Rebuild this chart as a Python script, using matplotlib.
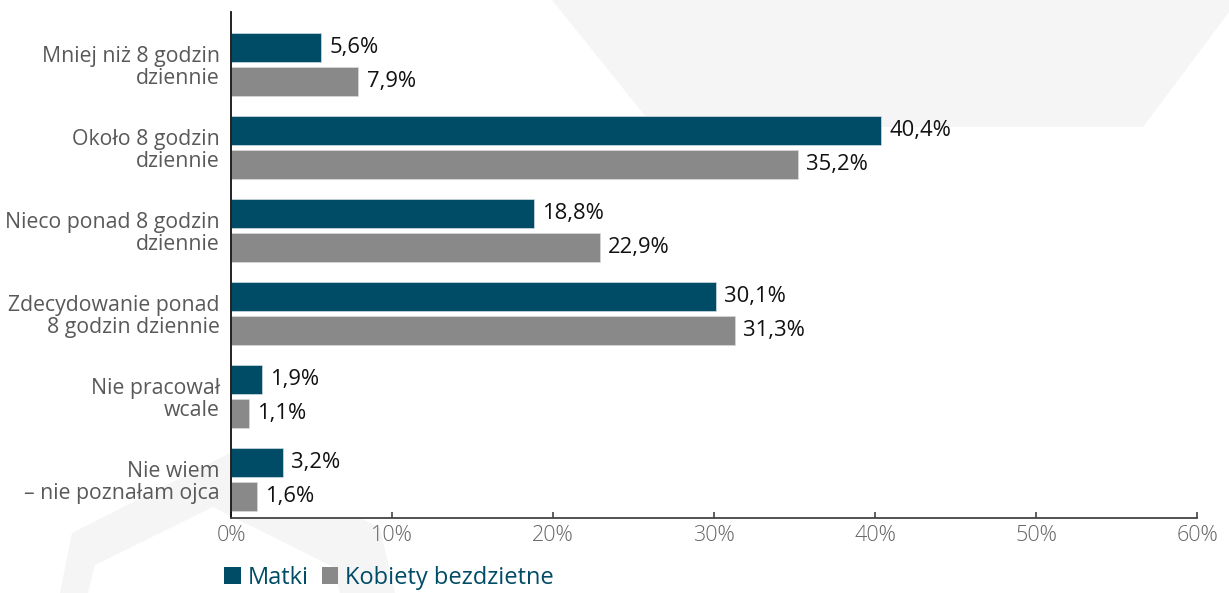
import matplotlib
matplotlib.use("Agg")
import matplotlib.pyplot as plt
from matplotlib.patches import Polygon, Patch
import numpy as np

# Data
categories = [
    "Mniej niż 8 godzin\ndziennie",
    "Około 8 godzin\ndziennie",
    "Nieco ponad 8 godzin\ndziennie",
    "Zdecydowanie ponad\n8 godzin dziennie",
    "Nie pracował\nwcale",
    "Nie wiem\n– nie poznałam ojca",
]
matki = [5.6, 40.4, 18.8, 30.1, 1.9, 3.2]
bezdzietne = [7.9, 35.2, 22.9, 31.3, 1.1, 1.6]
series_names = ["Matki", "Kobiety bezdzietne"]
x_ticks = [0, 10, 20, 30, 40, 50, 60]
x_tick_labels = ["0%", "10%", "20%", "30%", "40%", "50%", "60%"]

C_MATKI = "#004b66"
C_BEZ = "#898989"
C_BG = "#f5f5f5"

plt.rcParams["font.family"] = ["Open Sans", "DejaVu Sans"]

W, H = 1229, 593
fig = plt.figure(figsize=(W / 100, H / 100), dpi=100)
fig.patch.set_facecolor("white")


def px(points):
    return [(x / W, 1 - y / H) for x, y in points]


# Decorative background shapes
top_shape = Polygon(px([(552, 0), (654, 127), (1143, 127), (1238, 0)]),
                    closed=True, transform=fig.transFigure,
                    facecolor=C_BG, edgecolor="none", zorder=-2)
ring_shape = Polygon(px([(60, 593), (72, 533), (230, 453), (230, 518),
                         (360, 518), (380, 528), (395, 593), (340, 593),
                         (333, 567), (235, 518), (230, 515.5), (213, 507),
                         (95, 565), (88, 593)]),
                     closed=True, transform=fig.transFigure,
                     facecolor=C_BG, edgecolor="none", zorder=-2)
fig.patches.extend([top_shape, ring_shape])

ax = fig.add_axes([231 / W, 1 - 518 / H, (1197 - 231) / W, (518 - 12) / H])
ax.set_facecolor("none")

y = np.arange(len(categories))
h = 0.36
off = 0.205
b1 = ax.barh(y - off, matki, height=h, color=C_MATKI,
             edgecolor="#d5dee2", linewidth=0.5, label=series_names[0])
b2 = ax.barh(y + off, bezdzietne, height=h, color=C_BEZ,
             edgecolor="#d9d9d9", linewidth=0.5, label=series_names[1])


def fmt(v):
    return f"{v:.1f}".replace(".", ",") + "%"


for bars, vals in ((b1, matki), (b2, bezdzietne)):
    for rect, v in zip(bars, vals):
        ax.annotate(fmt(v), (v, rect.get_y() + rect.get_height() / 2),
                    xytext=(6, 0), textcoords="offset points",
                    ha="left", va="center", fontsize=15.8, color="#111111")

ax.set_xlim(0, 60)
ax.set_ylim(5.464, -0.633)

ax.set_xticks(x_ticks)
ax.set_xticklabels(x_tick_labels, fontsize=15.5, color="#666666",
                   fontweight="light")
ax.tick_params(axis="x", direction="in", length=4, width=1.2,
               color="#444444", pad=5)

ax.set_yticks(y)
ax.set_yticklabels(categories, fontsize=15.3, color="#595959",
                   linespacing=1.05)
ax.tick_params(axis="y", length=0, pad=8)

for side in ("top", "right"):
    ax.spines[side].set_visible(False)
ax.spines["left"].set_color("#111111")
ax.spines["left"].set_linewidth(1.3)
ax.spines["bottom"].set_color("#444444")
ax.spines["bottom"].set_linewidth(1.3)

handles = [Patch(facecolor=C_MATKI, edgecolor="none"),
           Patch(facecolor=C_BEZ, edgecolor="none")]
fig.legend(handles, series_names, loc="upper left",
           bbox_to_anchor=(224 / W, 1 - 566 / H), ncol=2, frameon=False,
           fontsize=17, labelcolor=C_MATKI, handlelength=0.7,
           handleheight=0.7, handletextpad=0.3, columnspacing=0.55,
           borderpad=0, borderaxespad=0)

fig.savefig("out.png", dpi=100, facecolor="white")
